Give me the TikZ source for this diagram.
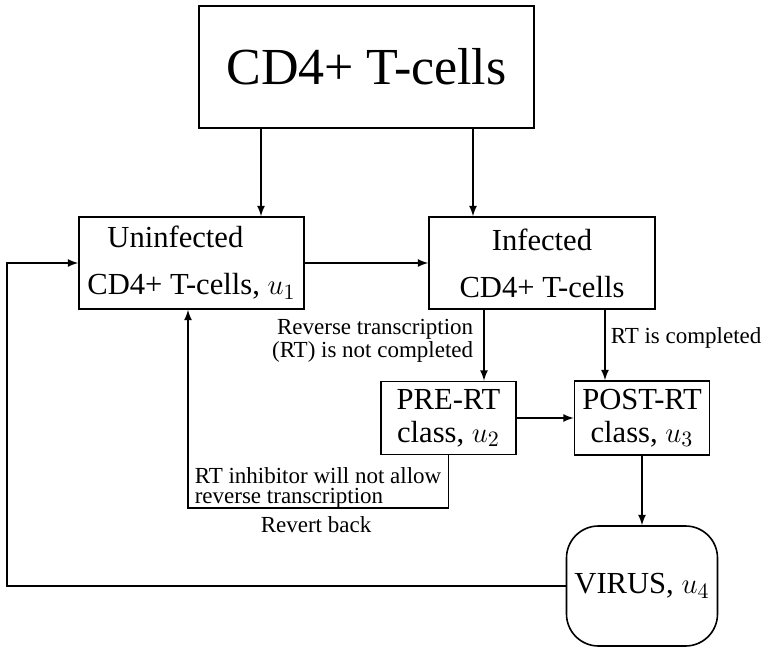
\documentclass[tikz,border=0pt]{standalone}
\usepackage{amsmath,amssymb}
\usepackage{fontspec}
\setmainfont{Liberation Serif}
\usepackage{tikz}
\usetikzlibrary{arrows}

\begin{document}
\begin{tikzpicture}[
            x=0.5pt, y=-0.5pt,
            >=latex,
            line width=0.8pt,
            box/.style={draw, rectangle, inner sep=2pt, font=\fontsize{15.3}{16.5}\selectfont, align=center},
            note/.style={inner sep=1pt, font=\fontsize{11.5}{10.2}\selectfont}
        ]
        \useasboundingbox (0,0) rectangle (767,647);
        % compartments
        \node[box, minimum width=167.5pt, minimum height=61pt, font=\fontsize{26}{30}\selectfont] (tcells) at (366.5,67) {CD4+ T-cells};
        \node[box, minimum width=112.5pt, minimum height=46pt, align=left] (uninf) at (191.5,263) {\hspace*{10pt}Uninfected\\[7pt]CD4+ T-cells, $u_1$};
        \node[box, minimum width=113pt, minimum height=46pt] (inf) at (542,263) {Infected\\[7pt]CD4+ T-cells};
        \node[box, minimum width=67.5pt, minimum height=36.5pt] (prert) at (448.5,418) {PRE-RT\\class, $u_2$};
        \node[box, minimum width=67.5pt, minimum height=37pt] (postrt) at (642,418) {POST-RT\\class, $u_3$};
        \node[box, rounded corners=16pt, minimum width=75.5pt, minimum height=60pt] (virus) at (642,586) {VIRUS, $u_4$};
        % labels
        \node[note, anchor=east, align=right] (notrt) at (476,341) {Reverse transcription\\(RT) is not completed};
        \node[note, anchor=west] (isrt) at (608,338) {RT is completed};
        \node[note, anchor=west, align=left] (inhib) at (192,488) {RT inhibitor will not allow\\reverse transcription};
        \node[note] (revert) at (316,525) {Revert back};
        % helper coordinates
        \coordinate (xl) at (261,0);
        \coordinate (xr) at (473,0);
        \coordinate (xpre) at (484,0);
        \coordinate (xpost) at (605,0);
        \coordinate (xfb) at (7,0);
        \coordinate (inb) at (188,508);
        % connectors
        \draw[->] (tcells.south -| xl) -- (uninf.north -| xl);
        \draw[->] (tcells.south -| xr) -- (inf.north -| xr);
        \draw[->] (uninf) -- (inf);
        \draw[->] (inf.south -| xpre) -- (prert.north -| xpre);
        \draw[->] (inf.south -| xpost) -- (postrt.north -| xpost);
        \draw[->] (prert) -- (postrt);
        \draw[->] (postrt) -- (virus);
        \draw[->] (prert.south) |- (inb) -- (uninf.south -| inb);
        \draw[->] (virus.west) -- (virus.west -| xfb) |- (uninf.west);
\end{tikzpicture}
\end{document}
